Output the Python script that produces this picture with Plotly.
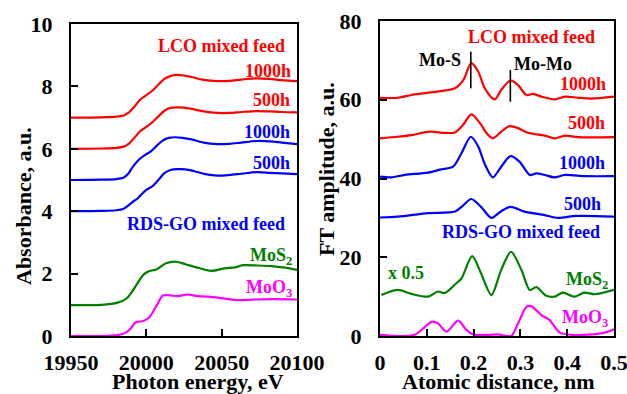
import plotly.graph_objects as go

# ---------------- Left panel: XANES absorbance (offset spectra) ----------------
lco1000_e = [19950, 19970, 19980, 19985, 19988, 19992, 19996, 20000, 20004, 20008, 20012, 20016, 20020, 20025, 20030, 20038, 20047, 20055, 20063, 20073, 20082, 20090, 20100]
lco1000_a = [7.00, 7.01, 7.03, 7.07, 7.15, 7.35, 7.58, 7.72, 7.86, 8.06, 8.24, 8.33, 8.37, 8.35, 8.30, 8.21, 8.17, 8.18, 8.22, 8.26, 8.24, 8.20, 8.17]

lco500_e = [19950, 19970, 19980, 19985, 19988, 19992, 19996, 20000, 20004, 20008, 20012, 20016, 20020, 20025, 20030, 20038, 20047, 20055, 20063, 20073, 20082, 20090, 20100]
lco500_a = [6.00, 6.01, 6.03, 6.07, 6.15, 6.35, 6.57, 6.70, 6.85, 7.04, 7.22, 7.31, 7.33, 7.32, 7.28, 7.20, 7.15, 7.15, 7.18, 7.21, 7.20, 7.18, 7.17]

rds1000_e = [19950, 19970, 19980, 19985, 19988, 19991, 19995, 19999, 20003, 20007, 20011, 20015, 20019, 20024, 20030, 20038, 20047, 20055, 20063, 20073, 20082, 20090, 20100]
rds1000_a = [5.00, 5.01, 5.03, 5.08, 5.20, 5.42, 5.65, 5.80, 5.92, 6.10, 6.27, 6.35, 6.37, 6.35, 6.30, 6.20, 6.15, 6.16, 6.20, 6.25, 6.24, 6.20, 6.15]

rds500_e = [19950, 19970, 19980, 19985, 19988, 19991, 19994, 19997, 20000, 20004, 20008, 20012, 20016, 20021, 20026, 20032, 20040, 20047, 20055, 20063, 20073, 20082, 20090, 20100]
rds500_a = [4.00, 4.01, 4.03, 4.08, 4.18, 4.30, 4.40, 4.55, 4.68, 4.80, 5.00, 5.22, 5.32, 5.35, 5.34, 5.28, 5.18, 5.14, 5.16, 5.20, 5.25, 5.23, 5.21, 5.19]

mos2_e = [19950, 19970, 19981, 19987, 19992, 19998, 20002, 20007, 20013, 20020, 20026, 20034, 20043, 20052, 20059, 20064, 20074, 20083, 20092, 20100]
mos2_a = [0.99, 1.00, 1.07, 1.21, 1.53, 1.96, 2.08, 2.14, 2.33, 2.38, 2.30, 2.19, 2.09, 2.17, 2.20, 2.27, 2.26, 2.24, 2.19, 2.12]

moo3_e = [19950, 19970, 19981, 19986, 19989, 19993, 19998, 20002, 20007, 20011, 20016, 20021, 20027, 20034, 20041, 20052, 20061, 20072, 20085, 20100]
moo3_a = [0.00, 0.00, 0.03, 0.10, 0.21, 0.44, 0.48, 0.60, 0.99, 1.30, 1.30, 1.28, 1.33, 1.28, 1.26, 1.20, 1.15, 1.17, 1.18, 1.17]

energy_ticks = [19950, 20000, 20050, 20100]
absorb_ticks = [0, 2, 4, 6, 8, 10]

# ---------------- Right panel: FT of EXAFS ----------------
ft_lco1000_r = [0.0, 0.038, 0.067, 0.103, 0.16, 0.178, 0.195, 0.21, 0.224, 0.245, 0.259, 0.279, 0.295, 0.313, 0.327, 0.345, 0.373, 0.395, 0.423, 0.452, 0.5]
ft_lco1000_a = [60.5, 60.5, 61.2, 61.8, 62.9, 65.0, 69.3, 67.1, 62.9, 60.1, 62.5, 64.9, 63.7, 61.2, 61.5, 60.8, 60.1, 60.8, 60.5, 60.3, 60.8]

ft_lco500_r = [0.0, 0.038, 0.067, 0.106, 0.138, 0.16, 0.178, 0.195, 0.216, 0.227, 0.241, 0.259, 0.277, 0.295, 0.316, 0.352, 0.373, 0.395, 0.423, 0.5]
ft_lco500_a = [50.2, 50.6, 51.0, 51.9, 51.6, 51.7, 53.7, 56.3, 53.7, 51.6, 50.2, 51.9, 53.3, 52.8, 51.6, 50.9, 50.2, 50.9, 50.5, 50.5]

ft_rds1000_r = [0.0, 0.024, 0.053, 0.103, 0.131, 0.156, 0.174, 0.194, 0.21, 0.224, 0.241, 0.259, 0.279, 0.298, 0.32, 0.334, 0.352, 0.373, 0.395, 0.44, 0.5]
ft_rds1000_a = [40.5, 40.3, 40.9, 41.5, 42.3, 43.0, 46.4, 50.6, 48.1, 43.6, 40.3, 43.0, 45.7, 44.3, 40.9, 41.3, 40.9, 40.3, 40.9, 40.6, 40.6]

ft_rds500_r = [0.0, 0.038, 0.103, 0.16, 0.178, 0.195, 0.216, 0.238, 0.259, 0.279, 0.309, 0.352, 0.38, 0.42, 0.5]
ft_rds500_a = [30.1, 30.3, 31.2, 31.6, 33.2, 34.8, 32.8, 30.0, 31.7, 32.8, 31.6, 30.7, 30.0, 30.5, 30.3]

ft_mos2_r = [0.003, 0.038, 0.067, 0.103, 0.124, 0.138, 0.163, 0.174, 0.197, 0.216, 0.238, 0.259, 0.28, 0.302, 0.32, 0.334, 0.355, 0.373, 0.391, 0.416, 0.437, 0.459, 0.5]
ft_mos2_a = [10.4, 11.7, 10.7, 10.0, 11.3, 10.9, 13.4, 14.6, 20.3, 15.9, 10.4, 16.8, 21.4, 16.8, 11.7, 12.4, 10.2, 10.0, 11.0, 10.0, 11.0, 10.6, 11.7]

ft_moo3_r = [0.0, 0.074, 0.11, 0.124, 0.142, 0.167, 0.184, 0.199, 0.231, 0.252, 0.28, 0.295, 0.313, 0.323, 0.345, 0.362, 0.384, 0.408, 0.452, 0.48, 0.5]
ft_moo3_a = [0.3, 0.3, 3.6, 3.2, 1.1, 3.9, 1.6, 0.4, 0.3, 0.4, 0.0, 3.2, 7.4, 7.6, 5.3, 4.1, 0.85, 0.3, 0.4, 0.85, 1.7]

distance_ticks = [0, 0.1, 0.2, 0.3, 0.4, 0.5]
distance_labels = ["0", "0.1", "0.2", "0.3", "0.4", "0.5"]
ft_ticks = [0, 20, 40, 60, 80]

# Peak markers (Mo-S, Mo-Mo)
marker_r = [0.194, 0.2785]
marker_lo = [62.9, 59.5]
marker_hi = [72.2, 67.6]

RED, BLUE, GREEN, MAG = "#FF0000", "#0000FF", "#008000", "#FF00FF"
FONT = "Liberation Serif"

fig = go.Figure()

def add(x, y, color, xa, ya):
    fig.add_trace(go.Scatter(x=x, y=y, mode="lines", xaxis=xa, yaxis=ya,
                             line=dict(color=color, width=2.2, shape="spline", smoothing=0.8),
                             hoverinfo="skip"))

add(lco1000_e, lco1000_a, RED, "x", "y")
add(lco500_e, lco500_a, RED, "x", "y")
add(rds1000_e, rds1000_a, BLUE, "x", "y")
add(rds500_e, rds500_a, BLUE, "x", "y")
add(mos2_e, mos2_a, GREEN, "x", "y")
add(moo3_e, moo3_a, MAG, "x", "y")

add(ft_lco1000_r, ft_lco1000_a, RED, "x2", "y2")
add(ft_lco500_r, ft_lco500_a, RED, "x2", "y2")
add(ft_rds1000_r, ft_rds1000_a, BLUE, "x2", "y2")
add(ft_rds500_r, ft_rds500_a, BLUE, "x2", "y2")
add(ft_mos2_r, ft_mos2_a, GREEN, "x2", "y2")
add(ft_moo3_r, ft_moo3_a, MAG, "x2", "y2")

for r, lo, hi in zip(marker_r, marker_lo, marker_hi):
    fig.add_shape(type="line", xref="x2", yref="y2", x0=r, x1=r, y0=lo, y1=hi,
                  line=dict(color="black", width=1.6))

tickfont = dict(family=FONT, size=22, color="black", weight="bold")
axis_common = dict(showline=True, linewidth=2, linecolor="black", mirror=True,
                   ticks="inside", ticklen=7, tickwidth=2, tickcolor="black",
                   showgrid=False, zeroline=False, tickfont=tickfont,
                   automargin=False, ticklabeloverflow="allow")

fig.update_layout(
    width=627, height=394, margin=dict(l=0, r=0, t=0, b=0),
    paper_bgcolor="white", plot_bgcolor="white", showlegend=False,
    xaxis=dict(domain=[71/627, 297/627], range=[19950, 20100],
               tickmode="array", tickvals=energy_ticks, ticktext=[str(v) for v in energy_ticks],
               anchor="y", ticklabelstandoff=6, **axis_common),
    yaxis=dict(domain=[58/394, 370/394], range=[0, 10],
               tickmode="array", tickvals=absorb_ticks, anchor="x",
               ticklabelstandoff=12, **axis_common),
    xaxis2=dict(domain=[380/627, 614/627], range=[0, 0.5],
                tickmode="array", tickvals=distance_ticks, ticktext=distance_labels,
                anchor="y2", ticklabelstandoff=6, **axis_common),
    yaxis2=dict(domain=[58/394, 373/394], range=[0, 80],
                tickmode="array", tickvals=ft_ticks, anchor="x2",
                ticklabelstandoff=12, **axis_common),
)

def ann(text, x, y, color, xref, yref, xanchor="right", size=18):
    fig.add_annotation(text=text, x=x, y=y, xref=xref, yref=yref, xanchor=xanchor,
                       yanchor="middle", showarrow=False,
                       font=dict(family=FONT, size=size, color=color, weight="bold"))

# left panel labels
ann("LCO mixed feed", 20093.4, 9.29, RED, "x", "y")
ann("1000h", 20097.6, 8.5, RED, "x", "y")
ann("500h", 20097.0, 7.56, RED, "x", "y")
ann("1000h", 20096.5, 6.53, BLUE, "x", "y")
ann("500h", 20096.5, 5.53, BLUE, "x", "y")
ann("RDS-GO mixed feed", 20093.2, 3.58, BLUE, "x", "y")
ann("MoS<sub>2</sub>", 20098.0, 2.55, GREEN, "x", "y")
ann("MoO<sub>3</sub>", 20098.0, 1.53, MAG, "x", "y")

# right panel labels
ann("LCO mixed feed", 0.4643, 75.9, RED, "x2", "y2")
ann("Mo-S", 0.129, 70.1, "black", "x2", "y2", xanchor="center")
ann("Mo-Mo", 0.348, 69.1, "black", "x2", "y2", xanchor="center")
ann("1000h", 0.4879, 64.0, RED, "x2", "y2")
ann("500h", 0.4857, 54.2, RED, "x2", "y2")
ann("1000h", 0.4844, 43.9, BLUE, "x2", "y2")
ann("500h", 0.4772, 33.5, BLUE, "x2", "y2")
ann("RDS-GO mixed feed", 0.4737, 26.5, BLUE, "x2", "y2")
ann("x 0.5", 0.0128, 15.9, GREEN, "x2", "y2", xanchor="left")
ann("MoS<sub>2</sub>", 0.4915, 14.0, GREEN, "x2", "y2")
ann("MoO<sub>3</sub>", 0.4915, 4.4, MAG, "x2", "y2")

# axis titles
title_font = dict(family=FONT, size=22, color="black", weight="bold")
fig.add_annotation(text="Photon energy, eV", x=198/627, y=1 - 381/394, xref="paper", yref="paper",
                   xanchor="center", yanchor="middle", showarrow=False, font=title_font)
fig.add_annotation(text="Atomic distance, nm", x=498/627, y=1 - 381/394, xref="paper", yref="paper",
                   xanchor="center", yanchor="middle", showarrow=False, font=title_font)
fig.add_annotation(text="Absorbance, a.u.", x=23/627, y=1 - 206/394, xref="paper", yref="paper",
                   xanchor="center", yanchor="middle", showarrow=False, textangle=-90, font=title_font)
fig.add_annotation(text="FT amplitude, a.u.", x=326/627, y=1 - 169/394, xref="paper", yref="paper",
                   xanchor="center", yanchor="middle", showarrow=False, textangle=-90, font=title_font)

fig.write_html("out.html", config={"displayModeBar": False},
               post_script="document.body.style.margin='0';document.body.style.padding='0';")
